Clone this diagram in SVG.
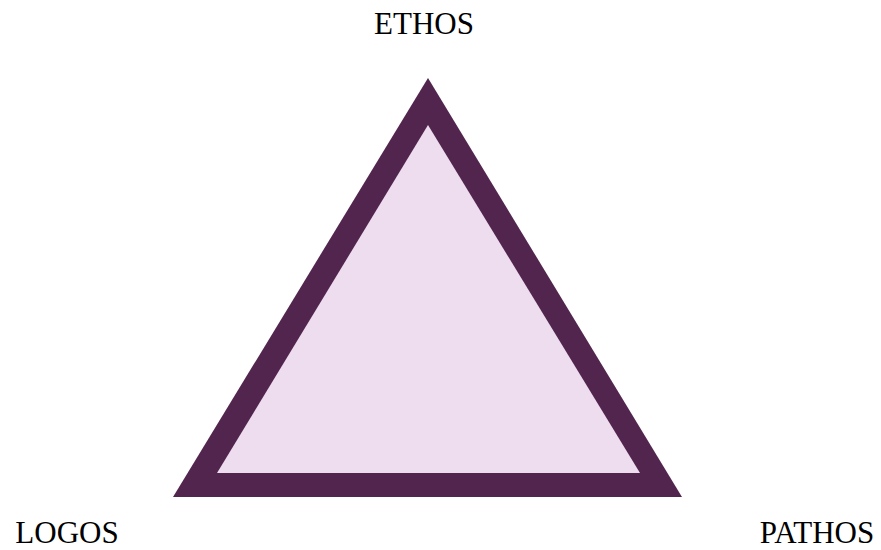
<svg xmlns="http://www.w3.org/2000/svg" width="881" height="550" viewBox="0 0 881 550">
<style>
.lbl{font-family:"Liberation Serif","Times New Roman",serif;font-size:31px;fill:#000}
</style>
<rect width="881" height="550" fill="#fff"/>
<g id="triangle">
<polygon points="428,78 173,497 682,497" fill="#52254F"/>
<polygon points="428,125 217,473 640,473" fill="#EEDDEE"/>
</g>
<g id="ethos"><text class="lbl" x="424" y="34" text-anchor="middle">ETHOS</text></g>
<g id="logos"><text class="lbl" x="67" y="543" text-anchor="middle">LOGOS</text></g>
<g id="pathos"><text class="lbl" x="817" y="543" text-anchor="middle">PATHOS</text></g>
<g id="connectors"/>
</svg>
